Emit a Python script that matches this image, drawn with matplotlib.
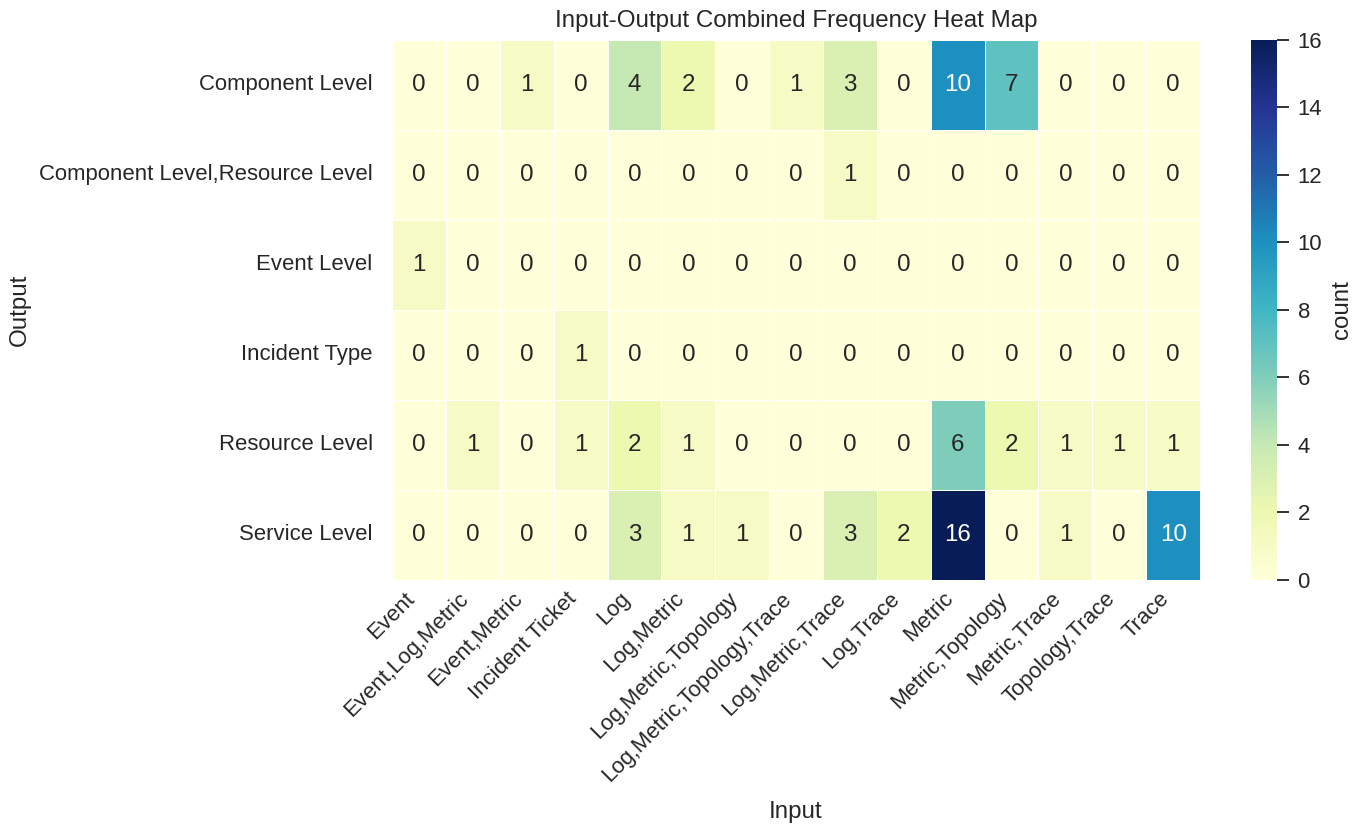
import numpy as np
import pandas as pd
import matplotlib
matplotlib.use("Agg")
import matplotlib.pyplot as plt
import seaborn as sns

outputs = [
    "Component Level",
    "Component Level,Resource Level",
    "Event Level",
    "Incident Type",
    "Resource Level",
    "Service Level",
]
inputs = [
    "Event", "Event,Log,Metric", "Event,Metric", "Incident Ticket", "Log",
    "Log,Metric", "Log,Metric,Topology", "Log,Metric,Topology,Trace",
    "Log,Metric,Trace", "Log,Trace", "Metric", "Metric,Topology",
    "Metric,Trace", "Topology,Trace", "Trace",
]
component_level = [0, 0, 1, 0, 4, 2, 0, 1, 3, 0, 10, 7, 0, 0, 0]
component_resource = [0, 0, 0, 0, 0, 0, 0, 0, 1, 0, 0, 0, 0, 0, 0]
event_level = [1, 0, 0, 0, 0, 0, 0, 0, 0, 0, 0, 0, 0, 0, 0]
incident_type = [0, 0, 0, 1, 0, 0, 0, 0, 0, 0, 0, 0, 0, 0, 0]
resource_level = [0, 1, 0, 1, 2, 1, 0, 0, 0, 0, 6, 2, 1, 1, 1]
service_level = [0, 0, 0, 0, 3, 1, 1, 0, 3, 2, 16, 0, 1, 0, 10]

counts = pd.DataFrame(
    [component_level, component_resource, event_level,
     incident_type, resource_level, service_level],
    index=pd.Index(outputs, name="Output"),
    columns=pd.Index(inputs, name="Input"),
)

sns.set_theme(style="white", font_scale=1.45)
plt.rcParams["font.family"] = ["Liberation Sans", "DejaVu Sans"]

fig = plt.figure(figsize=(13.59, 8.27), dpi=100)
ax = fig.add_axes([0.2885, 0.2987, 0.5945, 0.6530])
cax = fig.add_axes([0.9205, 0.2987, 0.0195, 0.6530])
sns.heatmap(counts, annot=True, fmt="d", cmap="YlGnBu", linewidths=0.5,
            linecolor="white", cbar_ax=cax, cbar_kws={"label": "count"},
            ax=ax)
cax.tick_params(length=8.5, width=1.3, color="#222222", pad=6)
cax.yaxis.labelpad = 6
ax.tick_params(axis="y", length=0, pad=14)
ax.tick_params(axis="x", length=0, pad=6)
ax.set_title("Input-Output Combined Frequency Heat Map", pad=9)
ax.xaxis.labelpad = 11
ax.yaxis.labelpad = 6
plt.setp(ax.get_xticklabels(), rotation=45, ha="right")
plt.setp(ax.get_yticklabels(), rotation=0)
fig.savefig("out.png")
